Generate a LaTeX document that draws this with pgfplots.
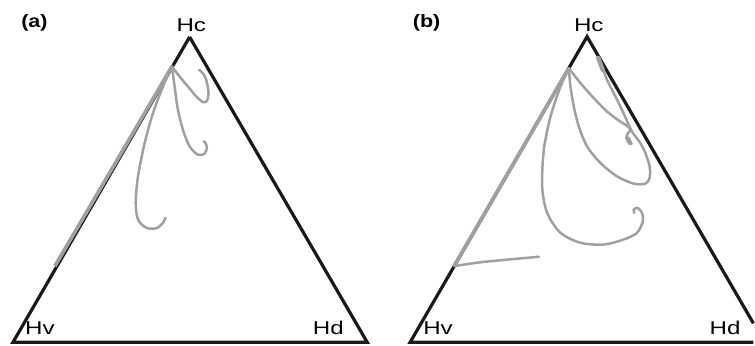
\documentclass[border=0pt]{standalone}
\usepackage{fontspec}
\setmainfont{Liberation Sans}
\usepackage{pgfplots}
\pgfplotsset{compat=1.18}
\definecolor{curvegray}{RGB}{160,160,160}
\definecolor{edgeblack}{RGB}{25,25,25}
\tikzset{lab/.style={font=\fontsize{9.3}{10}\selectfont, xscale=1.3, inner sep=0pt},
         plab/.style={font=\fontsize{9}{10}\selectfont\bfseries, xscale=1.2, inner sep=0pt}}
\begin{document}
\begin{tikzpicture}
\begin{axis}[
  scale only axis, width=377.5pt, height=173pt,
  xmin=0, xmax=755, ymin=0, ymax=346, y dir=reverse,
  hide axis, clip=false,
  every axis plot/.append style={line join=round, line cap=round},
]
% bounding box
\addplot[draw=none] coordinates {(0,0) (755,346)};
% ---- panel (a) ----
\addplot[edgeblack, line width=1.6pt, line join=miter, line cap=butt] coordinates {(190,37) (13,343) (368,343) (190,37)};
\addplot[curvegray, line width=1.85pt, line cap=butt] coordinates {(172.3,66.7) (55,266.7)};
\addplot[curvegray, line width=1.25pt, smooth] coordinates {(172.3,66.7) (180,76.7) (188.3,86.7) (196.7,96.7) (203.3,102.2) (207.3,101.2) (209,93.3) (206.7,80) (202.7,72.7) (199.5,70)};
\addplot[curvegray, line width=1.25pt, smooth] coordinates {(172.3,66.7) (175,86.7) (178.3,110) (183.3,130) (190,146.7) (198.3,155) (205,154) (207.3,148.3) (206,143.2) (204,141.7)};
\addplot[curvegray, line width=1.25pt, smooth] coordinates {(172.3,66.7) (163.3,86.7) (153.3,113.3) (145,143.3) (138.3,176.7) (136,203.3) (138.3,220) (146.7,228.3) (156.7,228.7) (163.3,223.3) (165.7,218.3)};
% ---- panel (b) ----
\addplot[edgeblack, line width=1.6pt, line join=miter, line cap=butt] coordinates {(755,324) (588.3,36.7) (411,343) (755,343)};
\addplot[curvegray, line width=1.85pt, line cap=butt] coordinates {(570,68.3) (455,266.7)};
\addplot[curvegray, line width=1.25pt, smooth] coordinates {(455,266.7) (480,263) (510,260) (540,257.3)};
\addplot[curvegray, line width=1.25pt, smooth] coordinates {(570,68.3) (571.7,86.7) (575,106.7) (580,126.7) (588.3,146.7) (601.7,163.3) (618.3,176.7) (635,184) (646.7,184) (651,178.3) (651,166.7) (646.7,153.3) (641.7,143.3) (636.7,136.7) (633.3,131.7) (630,125) (623.3,110) (615,93.3) (608.3,80) (603.3,66.7) (599,57.3)};
\addplot[curvegray, line width=2.2pt] coordinates {(599.5,58) (604,70)};
\addplot[curvegray, line width=1.25pt, smooth] coordinates {(570,68.3) (581.7,83.3) (595,98.3) (608.3,111.7) (620,120.7) (628.3,126) (631.7,130) (629,134) (627.7,138.3) (630,142.7) (633,144)};
\addplot[curvegray, line width=2.2pt] coordinates {(629.5,139) (631.5,143.5)};
\addplot[curvegray, line width=1.25pt, smooth] coordinates {(570,68.3) (561.7,86.7) (551.7,116.7) (545,150) (543.3,186.7) (548.3,213.3) (561.7,233.3) (581.7,243.3) (605,245) (625,240) (638.3,233.3) (644.3,221.7) (643.3,213.3) (639,208.3) (635,210) (635.7,213.3)};
% ---- labels ----
\node[plab, anchor=base] at (axis cs:34.5,27.5) {(a)};
\node[lab, anchor=base] at (axis cs:191.7,31.7) {Hc};
\node[lab, anchor=base] at (axis cs:40,335) {Hv};
\node[lab, anchor=base] at (axis cs:329,335) {Hd};
\node[plab, anchor=base] at (axis cs:427.5,27.5) {(b)};
\node[lab, anchor=base] at (axis cs:590,31.7) {Hc};
\node[lab, anchor=base] at (axis cs:439,335) {Hv};
\node[lab, anchor=base] at (axis cs:726.7,335) {Hd};
\end{axis}
\end{tikzpicture}
\end{document}
